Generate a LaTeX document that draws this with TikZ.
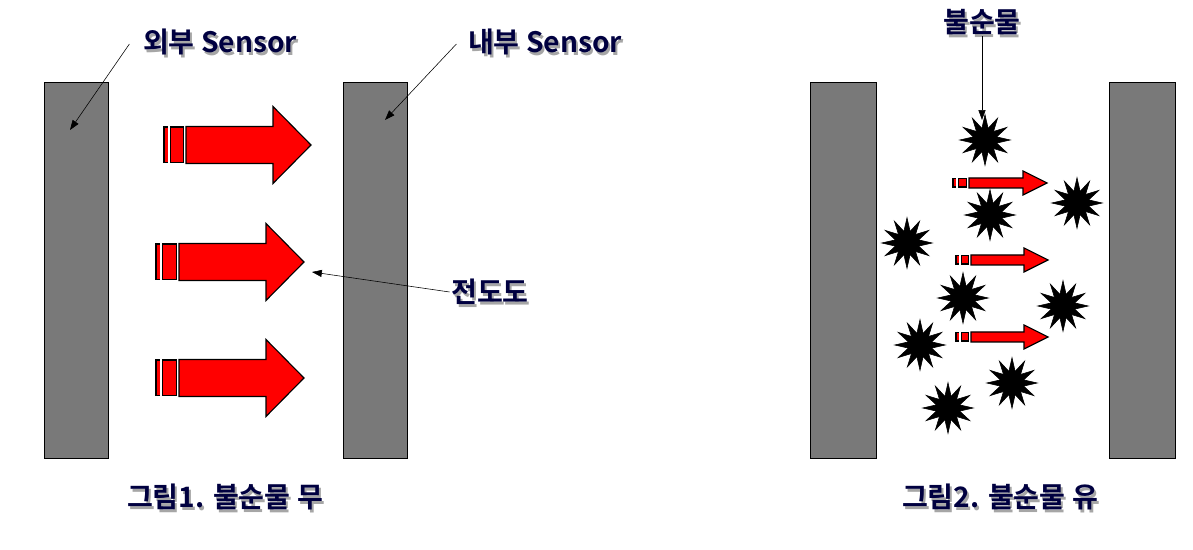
\documentclass[tikz,border=0pt]{standalone}
\usepackage{fontspec}
\newfontfamily\krfont{Noto Sans CJK KR}[BoldFont={* Bold}]
\usetikzlibrary{shapes.geometric, arrows.meta}

% flow arrow: #1 x of stripes, #2 y centre, #3 body start, #4 head start, #5 tip, #6 body half, #7 head half, #8 stripe gap
\newcommand{\flowarrow}[8]{%
  \fill[black] (#1,#2-#6) rectangle (#3-2,#2+#6);
  \fill[red] (#1+1.5,#2-#6+1.5) rectangle (#1+#8-1.5,#2+#6-1.5);
  \fill[red] (#1+#8+1.5,#2-#6+1.5) rectangle (#3-3.5,#2+#6-1.5);
  \fill[white] (#1+#8-1,#2-#6) rectangle (#1+#8+1,#2+#6);
  \draw[fill=red, thick] (#3,#2-#6) -- (#4,#2-#6) -- (#4,#2-#7) -- (#5,#2)
     -- (#4,#2+#7) -- (#4,#2+#6) -- (#3,#2+#6) -- cycle;}

\begin{document}
\begin{tikzpicture}
	  [x=0.025cm, y=-0.025cm,
	  %
	  sensorbar/.style={draw=black, fill=gray!95!black!100, line width=0.6pt},
	  %
	  lbl/.style={font=\krfont\bfseries\fontsize{20}{22}\selectfont, text=blue!25!black, inner sep=1pt},
	  %
	  lblshadow/.style={lbl, text=black!35},
	  %
	  impurity/.style={star, star points=12, star point ratio=2.1, fill=black, draw=black, minimum size=36, inner sep=0pt},
	  %
	  pointer/.style={draw=black, thin, arrows={-Triangle[length=7pt, width=5pt]}}]

	    \useasboundingbox (0,0) rectangle (1193,550);

	    % sensors
	    \node [sensorbar, minimum width=1.58cm, minimum height=9.38cm] (outer1) at (76.5,270.5) {};
	    \node [sensorbar, minimum width=1.6cm, minimum height=9.38cm] (inner1) at (375,270.5) {};
	    \node [sensorbar, minimum width=1.65cm, minimum height=9.38cm] (outer2) at (843,270.5) {};
	    \node [sensorbar, minimum width=1.63cm, minimum height=9.38cm] (inner2) at (1142.5,270.5) {};

	    % conductivity arrows
	    \flowarrow{163}{145}{186}{273}{311}{18.5}{38.5}{6}
	    \flowarrow{155}{262}{179}{266}{304}{18.5}{38.5}{6}
	    \flowarrow{155}{378}{179}{266}{304}{18.5}{38.5}{6}
	    \flowarrow{952}{183}{969}{1023}{1047}{5}{12}{5}
	    \flowarrow{955}{260}{971}{1024}{1048}{5}{12}{5}
	    \flowarrow{955}{337}{971}{1024}{1048}{5}{12}{5}
	    \coordinate (cond) at (312,272);

	    % impurities
	    \node [impurity] (imp1) at (985,140) {};
	    \node [impurity] (imp2) at (1077,203) {};
	    \node [impurity] (imp3) at (990,215) {};
	    \node [impurity] (imp4) at (907,243) {};
	    \node [impurity] (imp5) at (963,298) {};
	    \node [impurity] (imp6) at (1063,306) {};
	    \node [impurity] (imp7) at (920,345) {};
	    \node [impurity] (imp8) at (1012,383) {};
	    \node [impurity] (imp9) at (948,408) {};

	    % labels
	    \node [lblshadow] at (222,45) {외부 Sensor};
	    \node [lbl] (outerlbl) at (220,42) {외부 Sensor};
	    \node [lblshadow] at (547,45) {내부 Sensor};
	    \node [lbl] (innerlbl) at (545,42) {내부 Sensor};
	    \node [lblshadow] at (492,295) {전도도};
	    \node [lbl] (condlbl) at (490,292) {전도도};
	    \node [lblshadow] at (984,25) {불순물};
	    \node [lbl] (implbl) at (982,22) {불순물};
	    \node [lblshadow] at (227,500) {그림1. 불순물 무};
	    \node [lbl] (cap1) at (225,497) {그림1. 불순물 무};
	    \node [lblshadow] at (1002,500) {그림2. 불순물 유};
	    \node [lbl] (cap2) at (1000,497) {그림2. 불순물 유};

	    \draw [pointer] (outerlbl.west) ++(-12,2) -- (70,130);
	    \draw [pointer] (innerlbl.west) ++(-10,2) -- (385,120);
	    \draw [pointer] (condlbl.west) -- (cond);
	    \draw [pointer] (implbl.south) -- (982,120);
	  \end{tikzpicture}
\end{document}
